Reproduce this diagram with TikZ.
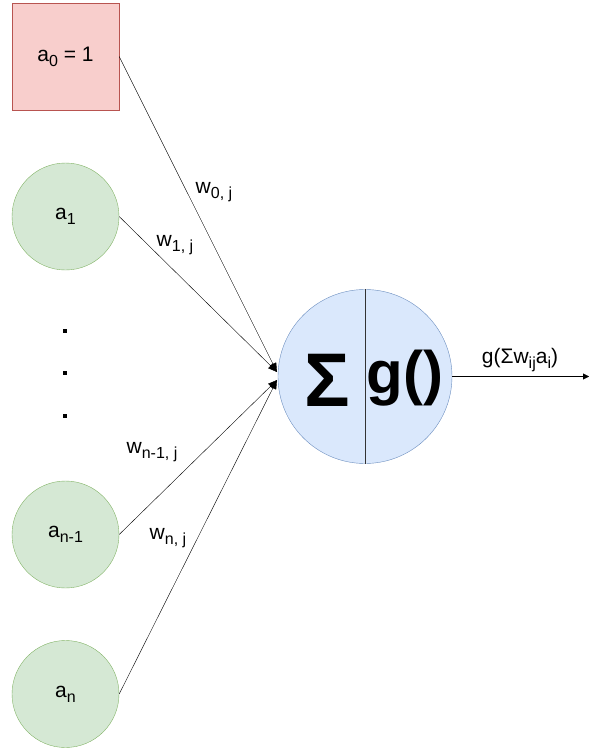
\documentclass[tikz,border=0pt]{standalone}
\usepackage{fontspec}
\setmainfont{Liberation Sans}
\usetikzlibrary{arrows.meta}

\definecolor{redfill}{HTML}{F8CECC}
\definecolor{reddraw}{HTML}{B85450}
\definecolor{greenfill}{HTML}{D5E8D4}
\definecolor{greendraw}{HTML}{82B366}
\definecolor{bluefill}{HTML}{DAE8FC}
\definecolor{bluedraw}{HTML}{6C8EBF}

% lowered index in the label font
\newcommand{\idx}[1]{\raisebox{-0.45ex}{\fontsize{16}{16}\selectfont #1}}

\begin{document}
\begin{tikzpicture}[x=1pt,y=-1pt,
  every node/.style={font=\fontsize{21}{24}\selectfont},
  bias/.style={draw=reddraw,fill=redfill,minimum size=107pt,inner sep=0pt},
  input/.style={draw=greendraw,fill=greenfill,circle,minimum size=107pt,inner sep=0pt},
  neuron/.style={draw=bluedraw,fill=bluefill,circle,minimum size=174pt,inner sep=0pt},
  weight/.style={draw,-{Triangle[length=9pt,width=7pt]}},
  dot/.style={fill=black,minimum size=4pt,inner sep=0pt}]
\useasboundingbox (0,0) rectangle (589,752);

\node[bias] (0) at (65.5,56.5) {a\idx{0} = 1};
\node[input] (1) at (65.5,216.5) {a\idx{1}};
\node[input] (n1) at (65.5,534.5) {a\idx{n-1}};
\node[input] (n) at (65.5,694) {a\idx{n}};

\node[dot] (d1) at (65,331) {};
\node[dot] (d2) at (65,373) {};
\node[dot] (d3) at (65,416) {};

\node[neuron] (j) at (365,376.5) {};
\path[draw,color=black!80] (j.north) -- (j.south);
\node (sum) at (327,380) {\fontsize{76}{80}\selectfont\bfseries Σ};
\node (act) at (405,378) {\fontsize{60}{64}\selectfont\bfseries g()};

\coordinate (top) at (277,372);
\coordinate (bot) at (277,380);
\coordinate (out) at (589,376.5);

\path[weight] (0.east) -- (top);
\path[weight] (1.east) -- (top);
\path[weight] (n1.east) -- (bot);
\path[weight] (n.east) -- (bot);
\path[draw,-{Triangle[length=6pt,width=6pt]}] (j.east) -- (out);

\node (w0) at (214,192) {w\idx{0, j}};
\node (w1) at (175,245) {w\idx{1, j}};
\node (wn1) at (152,452) {w\idx{n-1, j}};
\node (wn) at (168,538) {w\idx{n, j}};
\node (g) at (520,360) {g(Σw\idx{ij}a\idx{i})};

\end{tikzpicture}
\end{document}
